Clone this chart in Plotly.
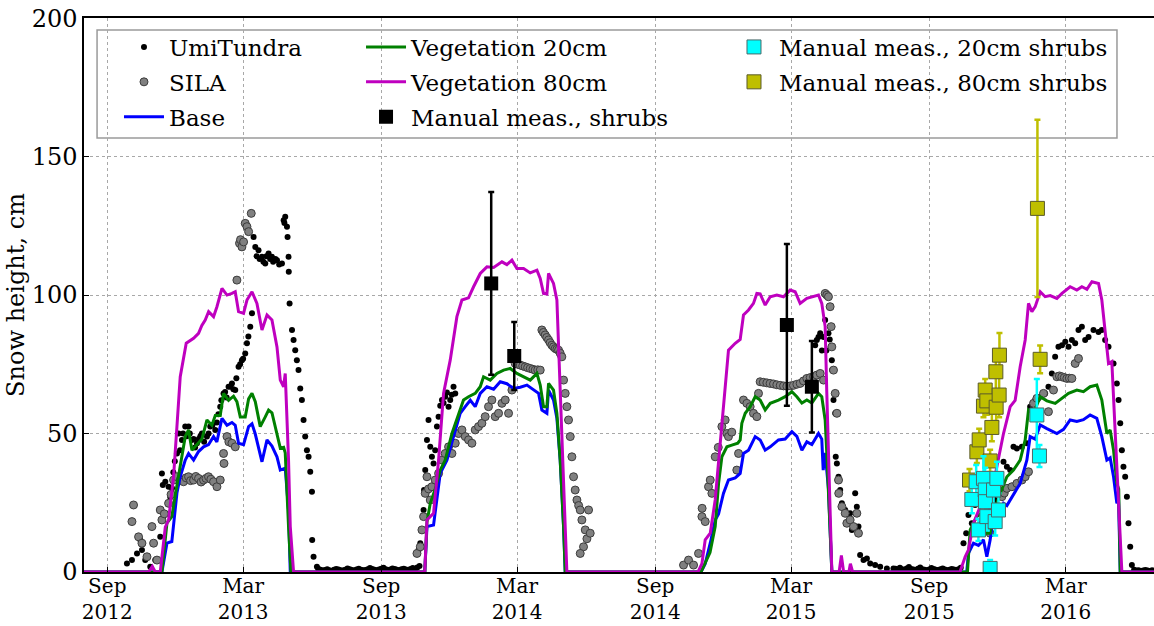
import numpy as np
import pandas as pd
import plotly.graph_objects as go

# ---------------- data (days since 2012-09-01, snow height in cm) ----------------
ORIGIN = "2012-09-01"

# UmiTundra station (black dots)
UMI_A_DAY = [26.2, 32.9, 39.6, 44, 46.2, 50.6, 57.3, 63.9, 70.6, 72.8, 74, 77.3, 81.7, 84, 86.2, 88, 90, 92.8, 95, 97,
             99.5, 101, 103.9, 106, 108.3, 110, 112.8, 115, 117, 119.5, 122, 124, 126.1, 129, 132.8, 135, 137.2, 140,
             143.9, 146, 148, 150.5, 152, 154.9, 157, 159, 161.6, 164, 166.1, 168, 170.5, 172, 174.9, 177, 179.4, 181,
             183.8, 186.1, 188, 190.5, 192.8, 194.9, 197.2, 199, 201.5, 203, 206.1, 208, 210.5, 212, 214.9, 217, 219.4,
             221, 224, 226.1, 229, 232.7, 235, 236, 237.1, 239.4, 240.2, 241.5, 241.8, 242.9, 246.1, 248.2, 250.4,
             252.6, 254.8, 257.1, 259.3, 261.5, 263.7, 266, 268.2, 270.4, 272.7, 273, 274.8, 279.3]
UMI_A_CM = [3.1, 4.3, 6.7, 11.6, 7.9, 4.3, 1.9, 4.3, 12.7, 35.6, 31.4, 32.6, 30.8, 27, 30.2, 36, 40, 42.8, 50, 44,
            47.7, 50, 52.5, 49, 52.5, 50, 47.7, 48, 45, 46.5, 48, 49, 50, 47, 48.9, 50, 52.5, 53,
            51.3, 54, 57, 59.7, 62, 64.5, 65, 63, 66.9, 67, 68.1, 66, 65.7, 70, 74.1, 75, 76.5, 77,
            78.9, 82.6, 85, 88.6, 93.4, 121, 117.4, 114, 116.2, 113, 113.8, 112, 111.4, 114, 115, 113, 113.8,
            112, 113, 112.6, 111, 111.4, 127, 126, 128.3, 124.7, 121, 113.8, 108.4, 97, 87.4, 83.8, 80.1,
            76.5, 72.9, 66.3, 62.1, 54.9, 48.9, 44, 41.6, 36.2, 29, 11.6, 5.5, 1.9]
UMI_SUMMER13_START, UMI_SUMMER13_STEP = 281, 3
UMI_SUMMER13_CM = [1.2, 0.8, 0.5, 0.7, 1.0, 0.6, 0.4, 0.8, 1.1, 0.9, 0.6, 0.5, 0.8, 1.3, 1.0, 0.7, 0.5, 0.9, 1.2,
                   0.8, 0.6, 0.7, 1.0, 1.4, 1.1, 0.8, 0.6, 0.9, 1.2, 1.5, 1.0, 0.7, 0.9, 1.3, 1.1, 0.8, 0.6, 1.0,
                   1.2, 0.9, 0.7, 1.1, 1.4, 1.0, 1.6, 2.2]
UMI_B_DAY = [414.7, 417, 419, 421.4, 422, 423.6, 425.9, 428, 430.3, 432.5, 434.7, 436.9, 439.2, 441.4, 443.6,
             445.9, 448, 450.2, 452.5, 454.7, 456.9, 459, 461.3, 463.6]
UMI_B_CM = [7.9, 10.4, 15, 22.4, 29.6, 36.8, 47.7, 54.9, 45.2, 41.6, 39.2, 44, 52.5, 56.1, 60,
            62.1, 61, 63.3, 64.8, 59.7, 62.1, 64, 66.9, 64.5]
UMI_C_DAY = [943.1, 945.3, 947.5, 949.8, 952, 954.2, 956.4, 958, 960.8, 962.5, 965.3, 965.8, 967.5, 969.8, 970.5,
             972, 974.2, 976.4, 978.7, 983.1, 989.7, 992, 996.4, 998.6, 1000.8, 1003, 1007.5, 1012, 1016.4, 1023,
             1029.7, 1038.6, 1047.4]
UMI_C_CM = [81.9, 83.8, 84.9, 86.2, 80, 84.9, 91, 80, 86.2, 84, 76.5, 72.9, 62.1, 57.3, 41.6,
            39.2, 34.4, 29.6, 24.8, 22.4, 21.2, 15.2, 28.4, 23.6, 16.4, 6.1, 4.3, 4.9, 3.1, 2.5,
            1.9, 1.3, 1.3]
UMI_SUMMER15_START, UMI_SUMMER15_STEP = 1050, 3
UMI_SUMMER15_CM = [1.2, 0.9, 1.5, 1.0, 0.8, 1.3, 1.8, 1.1, 0.9, 0.7, 1.2, 1.6, 1.0, 0.8, 0.6, 0.9, 1.4, 1.1,
                   0.8, 0.7, 1.0, 1.3, 0.9, 0.6, 0.8, 1.1, 0.9, 0.7, 1.0, 1.5]
UMI_D_DAY = [1140.7, 1144.3, 1147.3, 1151.8, 1156.2, 1160.6, 1165.1, 1171.8, 1176.2, 1182.9, 1189.6, 1194, 1198.5,
             1202.9, 1207.3, 1211.8, 1218.5, 1225.1, 1229.5, 1236.2, 1242.9, 1249.5, 1253.9, 1258.4, 1262.8,
             1267.2, 1271.9, 1276.3, 1280.6, 1285.1, 1289.5, 1293.9, 1298.4, 1302.8, 1307.3, 1313.9, 1320.6, 1325,
             1329.4, 1333.9, 1340.6, 1345, 1347.3, 1349.5, 1351.7, 1353.8, 1356.1, 1358.4, 1360.5, 1362.8, 1365]
UMI_D_CM = [10.4, 14, 20.6, 17.6, 24.2, 27.2, 17.6, 15.2, 14, 26, 32, 39.8, 38,
            36.8, 45.2, 44.6, 45.2, 46.5, 59.7, 62.1, 63.3, 64.5, 66.9, 71.7, 77.7,
            81.3, 81.9, 83.1, 81.3, 83.8, 82.6, 87.4, 88.6, 83.8, 84.9, 87.4, 86.7, 87.4,
            83.8, 81.3, 75.3, 68.1, 62.1, 53.7, 44, 38, 34.4, 27.2, 17.6, 9.1, 2.5]
UMI_END_START, UMI_END_STEP = 1368, 3
UMI_END_CM = [0.8, 0.5, 0.6, 0.4, 0.5, 0.7, 0.5, 0.4, 0.6, 0.5]

# SILA station (grey dots)
SILA_DAY = [32.9, 35, 41.7, 46.2, 52.9, 59.5, 61.7, 66.2, 70.6, 72.8, 76, 81.7, 85, 88.3, 92.8, 97.2, 101.6, 105,
            108.3, 111, 115, 118, 121.6, 125, 128.3, 131.5, 134.9, 138, 141.6, 146.1, 150.5, 154.9, 155.5, 159.5,
            162, 166.1, 170.5, 172.7, 176.2, 177.5, 179.4, 181.6, 183.8, 186.1, 188.3, 191.8,
            412.6, 417, 419.2, 421.4, 423.6, 425.9, 428, 430.3, 432.5, 436.9, 441.4, 445.9, 450.2, 454.7, 459.2,
            463.6, 468, 472.5, 476.9, 481.3, 485.8, 490.2, 494.6, 499.1, 503.5, 507.9, 512.4, 516.8, 521.3, 525.8,
            530.2, 534.6, 539.1, 543.5, 547, 550.2, 553.5, 556.8, 560, 563.5, 567, 570.1, 573.5, 576.8, 579, 581,
            583.4, 585.5, 587.9, 590, 592.3, 594.5, 596.8, 599, 601.2, 603.4, 605.6, 607.9, 610.1, 612.3, 614.5,
            616.8, 619, 621.2, 623.4, 625.7, 628, 630.1, 632.3, 634.5, 636.8, 639, 641.2, 643.4, 630.1,
            767.7, 774.4, 781.1, 787.7, 792.2, 792.5, 796.6, 801, 803.3, 805.5, 809.9, 814, 818.8, 823.2, 825.5,
            827.6, 832, 838.7, 841, 847.6, 852.1, 856.5, 860.9, 865.4, 867.6, 869.8, 874, 878.7, 883, 887.6, 892,
            896.5, 901, 905.4, 910, 914.2, 918.7, 923.1, 927.5, 932, 936.5, 940.9, 945.3, 949.8, 954.2, 956.4,
            958.6, 960.8, 963, 964.4, 965.3, 967.5, 969.8, 972, 974.2, 974.5, 978.7, 983.1, 985.3, 989.7, 994.2,
            998.6, 1000.8,
            1176.2, 1185, 1191.8, 1195, 1198.5, 1205.2, 1211.8, 1218.5, 1222.9, 1227.3, 1234, 1238.5, 1247.3,
            1253.9, 1260.6, 1265.1, 1268.5, 1271.7, 1275, 1278.4, 1281.7, 1285.1, 1289.5, 1293.9]
SILA_CM = [18.2, 24.2, 12.7, 10.4, 5.5, 16.4, 10.4, 4.3, 22.4, 18.8, 21, 24.8, 28, 33.2, 34.4, 33.2, 32.6, 34,
           34.4, 33, 33.2, 34.5, 33.8, 32.5, 33.2, 33.8, 34.4, 33.5, 32.6, 30.8, 33.2, 42.8, 39.2, 48.9,
           47, 46.5, 45.2, 105.4, 118.7, 120, 117.4, 119.2, 125.9, 124.7, 122.9, 129.5,
           6.7, 9.1, 15.2, 20, 28.4, 34.4, 30, 26, 30.8, 33.2, 35.6, 40.4, 42.8, 45.2, 42.8,
           46.5, 50, 51.3, 48.9, 47.7, 46.5, 51.3, 52.5, 53.7, 56.1, 59.7, 62.1, 56.1, 57.3, 60.9,
           62.1, 57.3, 65.7, 75.3, 75, 74.7, 74.4, 74.1, 73.8, 73.5, 73.2, 72.9, 73, 72.9, 87.4, 86.5,
           85.6, 84.7, 83.8, 82.8, 81.9, 81.3, 80.7, 80.4, 80.1, 79, 77.7, 69.3, 64.5, 59.7, 54.9,
           48.9, 41.6, 34.4, 29.6, 26, 24, 22.4, 18.8, 9.1, 15.2, 12, 22.4, 14, 6.7,
           2.5, 4.3, 2.5, 6.7, 20, 23, 18.2, 30.8, 33.2, 28.4, 41.6, 45, 52.5, 54.9, 50,
           48.9, 50.5, 36.8, 42.8, 62.1, 60.9, 59.7, 57.3, 56.1, 64.5, 68.7, 68.5, 68.3, 68.1, 67.9, 67.6,
           67.4, 67.2, 67.1, 67.2, 67.4, 67.8, 68.1, 69, 69.9, 70.2, 70.5, 71.1, 71.7, 69.3, 100.6,
           100, 99.4, 95.8, 88.6, 81.3, 72.9, 64.5, 57.3, 33.2, 28.4, 23.6, 21.2, 17.6, 18.8, 16.4,
           21.2, 14,
           14, 22, 27.2, 28.5, 30.2, 30.8, 32, 33.2, 34.4, 36.2, 60.9, 62.7, 64.5,
           57.9, 65.7, 70.5, 70.8, 70.5, 70.2, 69.9, 70, 69.9, 75.3, 77.1]

# Model runs (lines)
BASE_DAY = [-31, 72.8, 79.5, 86, 92.8, 97.2, 103.9, 108.3, 115, 121.6, 128.3, 135, 141.6, 146, 152.8, 159.5, 166.1,
            170.5, 174.9, 181.6, 188.3, 192.8, 197, 206.1, 212.8, 219.4, 226.1, 230.5, 237.1, 241.5, 243.8,
            423, 425.9, 434.7, 443.6, 452.5, 461.3, 470.2, 476.9, 483.6, 490.2, 496.9, 505.8, 514.7, 523.5, 532.4,
            541.3, 550.2, 559.1, 568, 574.6, 579, 585.7, 587.9, 594.5, 599, 603.4, 607.9, 610.1,
            791, 796.6, 803.3, 809.9, 814.4, 820.9, 827.6, 836.6, 843.2, 847.6, 854.3, 863.2, 869.8, 876.5, 883.2,
            894.2, 903.1, 912.1, 918.7, 925.4, 932, 938.7, 947.5, 951.9, 953.8, 956.4, 960.8, 965.3,
            1145, 1147.3, 1154, 1160.6, 1167.3, 1171.8, 1176.2, 1180.7, 1187.3, 1194, 1198.5, 1205.2, 1216.2,
            1225.1, 1229.5, 1236.2, 1242.9, 1251.8, 1265.1, 1274, 1282.8, 1291.7, 1300.5, 1309.4, 1318.3, 1325,
            1331.7, 1336.1, 1340.6, 1345, 1347.3, 1349.5, 1400]
BASE_CM = [0, 0, 10.4, 11, 28.5, 34.4, 40.4, 42.8, 40.4, 43.5, 45.2, 46, 48.9, 47, 55.5, 53, 54,
           53, 46.5, 46, 52.5, 53.5, 50, 39.8, 47.7, 45.5, 41.6, 36.8, 37.5, 22.4, 0,
           0, 16.4, 17, 35.6, 40.4, 48.9, 57.3, 59.7, 62, 59.7, 64.5, 66.9, 66, 68.7, 68,
           66.3, 66.7, 67.5, 65.7, 64.5, 58.5, 57.3, 65.7, 62.1, 55.5, 40.4, 16.4, 0,
           0, 3, 10.4, 18.8, 21, 28.4, 33.2, 34, 35.6, 42.8, 44, 48.9, 47.7, 44, 45.2,
           47.7, 48, 50.7, 49, 44, 47, 46, 50, 48, 36.8, 43, 30, 0,
           0, 6.7, 10.4, 9.6, 11.6, 5.5, 11.6, 20, 20.6, 24.8, 24, 27, 32,
           40.4, 48.9, 48, 53.1, 51.8, 50, 51.5, 54.9, 54.4, 55, 56.7, 55.5, 48.9,
           40.4, 41.2, 34.4, 24.8, 26, 0, 0]

VEG20_DAY = [-31, 72.8, 79.5, 86, 92, 97.2, 103.9, 108.3, 112.8, 119.5, 126.1, 132.8, 139.4, 143.9, 150.5, 154.9,
             161.6, 168.2, 172.7, 177.2, 183.8, 188.3, 192.8, 197.2, 203.8, 210.5, 214.9, 219.4, 226.1, 230.5, 235,
             237.1, 241.5, 244.7,
             423, 425.9, 430.3, 436.9, 443.6, 450.2, 459.2, 468, 474.6, 481.3, 490.2, 496.9, 501.3, 510.2, 519.1,
             528, 536.8, 545.7, 554.6, 563.5, 572.4, 576.8, 581.2, 585.7, 587.9, 594.5, 599, 603.4, 607.9, 610.1,
             791, 796, 803, 809.9, 814.4, 818.8, 825.5, 832.1, 840, 843.2, 845.4, 849.9, 856.5, 863.2, 869.8, 876.5,
             883.2, 894.2, 903.1, 912.1, 918.7, 925.4, 932, 938.7, 947.5, 951.9, 956.4, 958.6, 962.9, 965.3,
             1146, 1149.6, 1158.4, 1165.1, 1171.8, 1176.2, 1180.7, 1189.6, 1198.5, 1207.3, 1216.2, 1222.9, 1227.3,
             1234, 1242.9, 1251.8, 1262.9, 1271.7, 1280.6, 1291.7, 1300.5, 1309.4, 1318.3, 1325, 1331.7, 1336.1,
             1340.6, 1345, 1347.5, 1349.5, 1400]
VEG20_CM = [0, 0, 17.7, 20, 30, 38, 48.9, 51.3, 44, 46, 48, 54.9, 53, 56.5, 56.5, 64.5,
            62, 63.5, 61.5, 56, 56, 62.5, 64.5, 61.5, 52.5, 56, 58.5, 57.5, 50, 44.7, 45,
            43, 16.4, 0,
            0, 18, 24.8, 30, 36.8, 40.4, 50, 57.3, 62.1, 63.3, 64.5, 66.9, 70.5, 69.3, 71.7,
            72.9, 73.5, 71.7, 70.5, 69.3, 71.7, 67.5, 59.7, 59.7, 68.1, 65.7, 57.3, 40.4, 16.4, 0,
            0, 3, 7, 16.4, 32, 41.6, 45.2, 45.8, 46.5, 47.7, 53.7, 57.3, 59.7, 63.3, 62.1, 58.5,
            60.9, 62.1, 63.3, 65.1, 63.3, 61, 62.1, 61, 64.5, 63.3, 54.9, 42.8, 16.4, 0,
            0, 15.2, 20, 21.2, 14, 14, 21.2, 28.4, 34.4, 36.8, 40.4, 47.7, 58.5,
            57.3, 63.3, 61.8, 60.9, 62.7, 64.5, 65.7, 65.1, 66.9, 67.5, 62.1, 50, 51.3,
            44, 32, 30, 0, 0]

VEG80_DAY = [-31, 55, 60, 64, 70.6, 77.3, 81.7, 88.3, 92.8, 97.2, 105.2, 115, 121.6, 126, 130.5, 135, 141.6, 146.1,
             152.8, 159.5, 166.1, 170.5, 174.9, 181.6, 186.1, 192.8, 199.4, 206.1, 212.8, 219.4, 226.1, 230.5,
             234.9, 237.1, 241.5, 243.8, 248.2,
             423, 425.9, 434.7, 441.4, 448, 456.9, 465.8, 472.5, 481.3, 488, 496.9, 505.8, 514.7, 525.8, 532.4,
             539.1, 545.7, 554.6, 563.5, 572.4, 576.8, 581.2, 585.7, 587.9, 594.5, 599, 603.4, 607.9, 612.3,
             787, 792.2, 796.6, 803.3, 809.9, 816.6, 823.2, 827.6, 836.6, 843.2, 847.6, 854.3, 860.9, 865.4, 869.8,
             876.5, 883.2, 892, 900.9, 909.8, 916.4, 923.1, 932, 940.9, 947.5, 951.9, 956.4, 958.6, 961, 963.1,
             965.3, 975, 978, 981, 988, 990, 993,
             1136, 1142.9, 1147.3, 1154, 1162.9, 1169.6, 1173.9, 1176.2, 1180.7, 1187.3, 1194, 1202.9, 1209.5,
             1216.2, 1222.9, 1227.3, 1231.8, 1236.2, 1242.9, 1249.5, 1256.2, 1265.1, 1271.9, 1282.8, 1291.7,
             1298.4, 1305.1, 1311.8, 1320.6, 1325, 1329.4, 1333.9, 1338.3, 1342.8, 1347.3, 1351.7, 1400]
VEG80_CM = [0, 0, 2, 0, 0, 16.2, 18.8, 34.4, 52.5, 70.5, 82.6, 84.4, 86.2, 89, 91, 94, 92.2, 95.8,
            102.4, 100, 100.6, 101.2, 94, 93.4, 98.2, 101.2, 97, 87.4, 92.8, 91, 81.3, 69.3,
            66.9, 71.7, 40.4, 16.4, 0,
            0, 18.8, 21.2, 40.4, 64.5, 76.5, 92.2, 98.2, 99, 103, 107.8, 110.2, 110, 112, 111,
            112.6, 109.6, 109.6, 108, 109, 106, 100.6, 100.4, 107.8, 104.2, 98.2, 64.5, 28.4, 0,
            0, 3, 11.6, 14, 26, 46.5, 66.9, 80.1, 82.6, 84, 92.8, 94.6, 97, 100.6, 100.4,
            96.4, 99.4, 100, 99.4, 101.8, 101.2, 97, 98.8, 99.4, 100, 97, 88.6, 64.5, 40, 16,
            0, 0, 6, 0, 0, 3, 0,
            0, 5.5, 8, 17.6, 23.6, 29, 28.5, 18.8, 32, 40.4, 50, 59.7, 62,
            74.1, 83.8, 97, 94, 95.8, 101.2, 99.4, 99.8, 98.8, 100.6, 103, 101.8,
            103, 102.1, 104.8, 104.2, 98.2, 86.2, 75.3, 76, 50, 26, 0, 0]

# Manual measurements (mean, error)
SHRUB_DAY = [511.5, 542.2, 905.4, 938.7]
SHRUB_CM = [104.2, 78, 89.2, 66.9]
SHRUB_ERR = [33, 12.3, 29.2, 16.5]

SHRUB20_DAY = [1151.8, 1157.6, 1160.6, 1167.3, 1169.6, 1169.9, 1171.8, 1176.2, 1180.7, 1182.9, 1185.2, 1187.3,
               1238.4, 1241.9]
SHRUB20_CM = [26.2, 32.6, 15.2, 33.8, 29.6, 25.4, 20, 1.3, 29.6, 18.2, 33.8, 22.4, 56.7, 41.9]
SHRUB20_ERR = [5, 6, 4, 8, 8, 6, 5, 3, 6, 5, 6, 6, 13, 4]

SHRUB80_DAY = [1148.7, 1158.5, 1161.6, 1167.3, 1169.6, 1171.8, 1176.2, 1178.5, 1184.2, 1188.2, 1183.8, 1188.6,
               1239.2, 1242.8]
SHRUB80_CM = [33.2, 43.4, 47.7, 59.9, 65.7, 61.8, 40.1, 52.2, 59.5, 63.9, 72.3, 78.3, 131.3, 76.8]
SHRUB80_ERR = [4, 4, 4, 4, 4, 5, 4, 5, 5, 8, 8, 8, 32, 5]

TICK_DATES = ["2012-09-01", "2013-03-01", "2013-09-01", "2014-03-01", "2014-09-01", "2015-03-01",
              "2015-09-01", "2016-03-01"]
TICK_TEXT = ["Sep<br>2012", "Mar<br>2013", "Sep<br>2013", "Mar<br>2014", "Sep<br>2014", "Mar<br>2015",
             "Sep<br>2015", "Mar<br>2016"]
X_RANGE = ["2012-08-01", "2016-06-26 12:00"]
Y_RANGE = [0, 200.05]
Y_TICKS = [0, 50, 100, 150, 200]


def to_date(days):
    return pd.Timestamp(ORIGIN) + pd.to_timedelta(np.asarray(days, dtype=float), unit="D")


def grid(start, step, vals):
    return list(start + step * np.arange(len(vals)))


umi_day = (UMI_A_DAY + grid(UMI_SUMMER13_START, UMI_SUMMER13_STEP, UMI_SUMMER13_CM) + UMI_B_DAY + UMI_C_DAY
           + grid(UMI_SUMMER15_START, UMI_SUMMER15_STEP, UMI_SUMMER15_CM) + UMI_D_DAY
           + grid(UMI_END_START, UMI_END_STEP, UMI_END_CM))
umi_cm = UMI_A_CM + UMI_SUMMER13_CM + UMI_B_CM + UMI_C_CM + UMI_SUMMER15_CM + UMI_D_CM + UMI_END_CM

FONT = "DejaVu Serif"
LEG_FONT = dict(family=FONT, size=23, color="black")

fig = go.Figure()

fig.add_trace(go.Scatter(x=to_date(umi_day), y=umi_cm, mode="markers", name="UmiTundra",
                         marker=dict(color="black", size=6), legend="legend", legendgroup="a", legendrank=1))
fig.add_trace(go.Scatter(x=to_date(SILA_DAY), y=SILA_CM, mode="markers", name="SILA",
                         marker=dict(color="#808080", size=8, line=dict(color="#3c3c3c", width=1)),
                         legend="legend", legendgroup="b", legendrank=2))
fig.add_trace(go.Scatter(x=to_date(BASE_DAY), y=BASE_CM, mode="lines", name="Base",
                         line=dict(color="#0000ff", width=3), legend="legend", legendgroup="c", legendrank=3))
fig.add_trace(go.Scatter(x=to_date(VEG20_DAY), y=VEG20_CM, mode="lines", name="Vegetation 20cm",
                         line=dict(color="#008000", width=3), legend="legend2", legendgroup="d", legendrank=1))
fig.add_trace(go.Scatter(x=to_date(VEG80_DAY), y=VEG80_CM, mode="lines", name="Vegetation 80cm",
                         line=dict(color="#bf00bf", width=3), legend="legend2", legendgroup="e", legendrank=2))
fig.add_trace(go.Scatter(x=to_date(SHRUB_DAY), y=SHRUB_CM, mode="markers", name="Manual meas., shrubs",
                         marker=dict(color="black", size=14, symbol="square"),
                         error_y=dict(type="data", array=SHRUB_ERR, color="black", thickness=2.5, width=3),
                         legend="legend2", legendgroup="f", legendrank=3))
fig.add_trace(go.Scatter(x=to_date(SHRUB80_DAY), y=SHRUB80_CM, mode="markers", name="Manual meas., 80cm shrubs",
                         marker=dict(color="#bfbf00", size=14, symbol="square", line=dict(color="#5a5a2a", width=1)),
                         error_y=dict(type="data", array=SHRUB80_ERR, color="#bfbf00", thickness=2.5, width=3),
                         legend="legend3", legendgroup="h", legendrank=2))
fig.add_trace(go.Scatter(x=to_date(SHRUB20_DAY), y=SHRUB20_CM, mode="markers", name="Manual meas., 20cm shrubs",
                         marker=dict(color="#00ffff", size=14, symbol="square", line=dict(color="#4a6a6a", width=1)),
                         error_y=dict(type="data", array=SHRUB20_ERR, color="#00ffff", thickness=2.5, width=3),
                         legend="legend3", legendgroup="g", legendrank=1))

leg_common = dict(font=LEG_FONT, bgcolor="rgba(0,0,0,0)", borderwidth=0, yanchor="top", xanchor="left",
                  y=0.9865, traceorder="grouped", tracegroupgap=2, itemwidth=40)

fig.update_layout(
    width=1154, height=626,
    margin=dict(l=84, r=0, t=18, b=54, autoexpand=False),
    paper_bgcolor="white", plot_bgcolor="white",
    font=dict(family=FONT, size=21, color="black"),
    legend=dict(x=0.0327, **leg_common),
    legend2=dict(x=0.2589, **leg_common),
    legend3=dict(x=0.6028, **leg_common),
    shapes=[dict(type="rect", xref="paper", yref="paper", x0=0.0122, x1=0.9654, y0=0.7834, y1=0.9783,
                 line=dict(color="#9a9a9a", width=1.5), fillcolor="white", layer="between")],
)

fig.update_xaxes(
    type="date", range=X_RANGE, tickvals=TICK_DATES, ticktext=TICK_TEXT, automargin=False,
    tickfont=dict(family=FONT, size=20), ticklabelstandoff=-5,
    showgrid=True, gridcolor="#a8a8a8", griddash="dot", gridwidth=1,
    showline=True, linecolor="black", linewidth=1.5, mirror=True, ticks="inside", ticklen=5, tickcolor="black",
    zeroline=False,
)
fig.update_yaxes(
    range=Y_RANGE, tickvals=Y_TICKS, tickfont=dict(family=FONT, size=24), automargin=False,
    ticklabeloverflow="allow",
    showgrid=True, gridcolor="#a8a8a8", griddash="dot", gridwidth=1,
    showline=True, linecolor="black", linewidth=1.5, mirror=False, ticks="inside", ticklen=5, tickcolor="black",
    zeroline=False,
    title=dict(text="Snow height, cm", font=dict(family=FONT, size=24), standoff=0),
)

# remove the default page margin so the figure fills the window exactly; hide the mode bar
fig.write_html("out.html", config={"displayModeBar": False},
               post_script="document.body.style.margin='0';document.body.style.overflow='hidden';")
